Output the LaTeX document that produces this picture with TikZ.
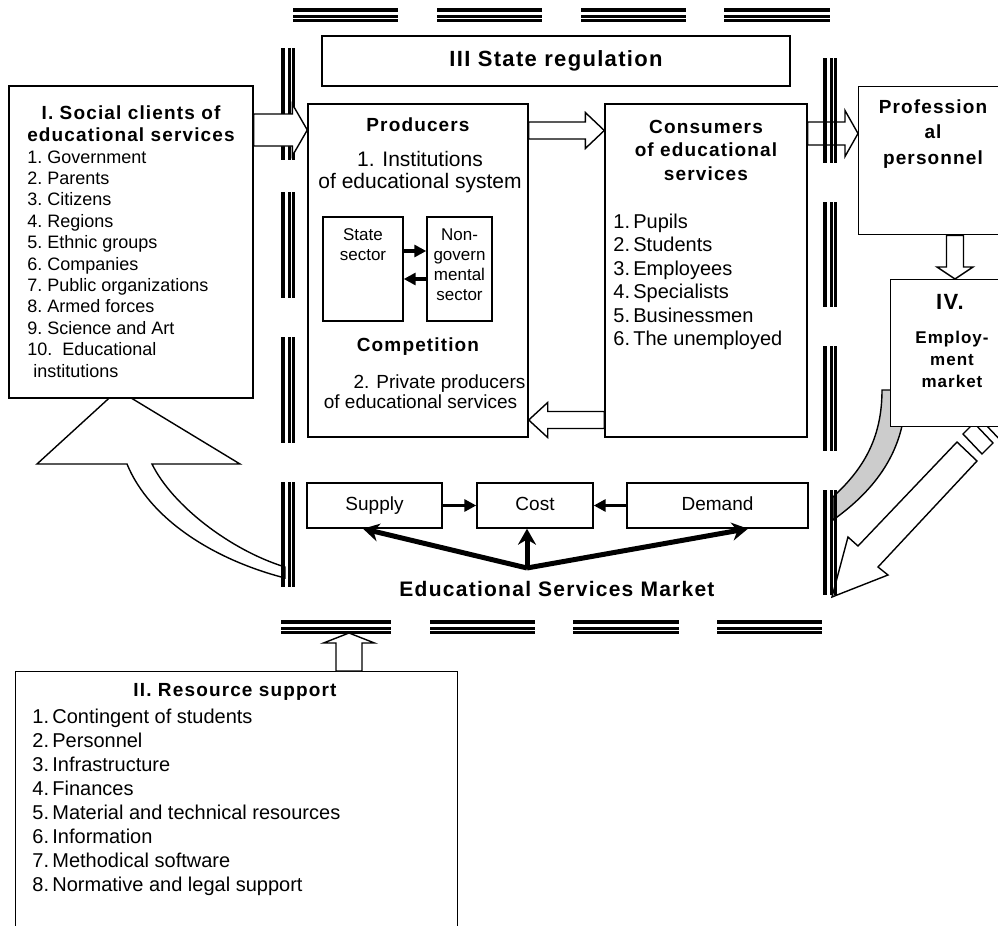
\documentclass[tikz,border=0pt]{standalone}
\usepackage{fontspec}
\setmainfont{Liberation Sans}
\newfontfamily\headfont[LetterSpace=6.0]{Liberation Sans}
\usetikzlibrary{arrows.meta,calc,backgrounds}

\newcommand{\vrail}[3]{%
  \draw[line width=2pt] (#1-5,#2) -- (#1-5,#3);
  \draw[line width=1.5pt] (#1+1,#2) -- (#1+1,#3);
  \draw[line width=1.25pt] (#1+5.5,#2) -- (#1+5.5,#3);}
\newcommand{\hrail}[3]{%
  \draw[line width=2pt] (#2,#1-5) -- (#3,#1-5);
  \draw[line width=1.5pt] (#2,#1+1) -- (#3,#1+1);
  \draw[line width=1.25pt] (#2,#1+5.5) -- (#3,#1+5.5);}

\begin{document}
\begin{tikzpicture}[x=0.5pt, y=-0.5pt,
  box/.style={draw, fill=white, line width=0.7pt, inner sep=0pt},
  market box/.style={box, minimum height=22.5pt, text height=7pt, text depth=2pt, font=\fontsize{9.5}{11}\selectfont},
  head/.style n args={2}{font=\headfont\bfseries\fontsize{#1}{#2}\selectfont, inner sep=0pt, align=center},
  txt/.style n args={2}{font=\fontsize{#1}{#2}\selectfont, inner sep=0pt, align=center},
  item/.style={font=\fontsize{#1}{12}\selectfont, inner sep=0pt, anchor=base west},
  blockarrow/.style={draw, fill=white, line width=0.7pt, line join=miter},
  thin arrow/.style={line width=1.8pt, -{Triangle[length=6pt,width=6pt]}},
  fat arrow/.style={line width=2.5pt, -{Stealth[length=8pt,width=9pt]}},
  fat/.style n args={3}{to path={
    ($(\tikztotarget)!#3!(\tikztostart)$) coordinate (fatH)
    ($(\tikztostart)!#1!90:(\tikztotarget)$) -- ($(fatH)!#1!90:(\tikztotarget)$)
    -- ($(fatH)!#2!90:(\tikztotarget)$) -- (\tikztotarget)
    -- ($(fatH)!#2!-90:(\tikztotarget)$) -- ($(fatH)!#1!-90:(\tikztotarget)$)
    -- ($(\tikztostart)!#1!-90:(\tikztotarget)$) -- cycle}}]
\useasboundingbox (0,0) rectangle (998,926);
\clip (0,0) rectangle (998,926);

\node[box, minimum width=234pt, minimum height=25pt, font=\headfont\bfseries\fontsize{11}{13}\selectfont] (regul) at (556,61) {III State regulation};
\node[box, minimum width=122pt, minimum height=156pt] (clients) at (131,242) {};
\node[box, minimum width=110pt, minimum height=166.5pt] (producers) at (418,270.5) {};
\node[box, minimum width=101pt, minimum height=166.5pt] (consumers) at (706,270.5) {};
\node[box, minimum width=71.5pt, minimum height=74pt, anchor=north west] (personnel) at (858,86) {};
\node[box, minimum width=55.5pt, minimum height=73.5pt, anchor=north west] (employ) at (890,279) {};
\node[box, minimum width=40pt, minimum height=52pt] (statesec) at (363,269) {};
\node[box, minimum width=32.5pt, minimum height=52pt] (nongov) at (459.5,269) {};
\node[market box, minimum width=67.5pt] (supply) at (374.5,505.5) {Supply};
\node[market box, minimum width=58pt] (cost) at (535,505.5) {Cost};
\node[market box, minimum width=90.5pt] (demand) at (717.5,505.5) {Demand};
\node[box, minimum width=221pt, minimum height=140pt, anchor=north west] (resource) at (15,671) {};

\node[head={9.5}{11}] (clientstitle) at (131,124) {I. Social clients of\\educational services};
\foreach \t [count=\i] in {Government,Parents,Citizens,Regions,Ethnic groups,Companies,Public organizations,Armed forces,Science and Art}
  \node[item=9] (client\i) at (27,{163+21.4*(\i-1)}) {\i.\ \t};
\node[item=9] (client10) at (27,355.6) {10.\ \ Educational};
\node[item=9] (client11) at (33,377) {institutions};

\node[head={9.5}{11}] (prodtitle) at (418,125) {Producers};
\node[txt={10.5}{11}] (inst) at (420,172) {1. Institutions\\of educational system};
\node[txt={8.5}{10}] (statetxt) at (363,245) {State\\sector};
\node[txt={8.5}{10}] (nongovtxt) at (459.5,265) {Non-\\govern\\mental\\sector};
\node[head={9.5}{11}] (competition) at (418,347) {Competition};
\node[txt={9.5}{10}] (private) at (420.5,392) {\hspace*{19pt}2. Private producers\\of educational services};

\node[head={9.5}{11.75}] (constitle) at (706,150) {Consumers\\of educational\\services};
\foreach \t [count=\i] in {Pupils,Students,Employees,Specialists,Businessmen,The unemployed}
  \node[item=10] (cons\i) at (613,{228+23.5*(\i-1)}) {\makebox[10pt][l]{\i.}\t};

\node[head={9.5}{12.75}] (perstitle) at (933,134) {Profession\\al\\personnel};
\node[head={11}{13}] (ivtitle) at (950,302) {IV.};
\node[head={8.5}{11}] (employtitle) at (952,359.5) {Employ-\\ment\\market};

\node[head={10.5}{12}] (market) at (557,589) {Educational Services Market};

\node[head={9.5}{11}] (restitle) at (235,692) {II. Resource support};
\foreach \t [count=\i] in {Contingent of students,Personnel,Infrastructure,Finances,Material and technical resources,Information,Methodical software,Normative and legal support}
  \node[item=10] (res\i) at (32,{723+24*(\i-1)}) {\makebox[10pt][l]{\i.}\t};

\begin{scope}[on background layer]
\draw[blockarrow] (127,464) -- (37,464) -- (118,390) -- (240,464) -- (152,464)
  .. controls (172,505) and (230,550) .. (285,567) -- (285,578)
  .. controls (215,560) and (150,520) .. (127,464) -- cycle;
\draw[fill=black!20, line width=0.7pt] (882,390) -- (895,390) -- (902,426)
  .. controls (893,465) and (868,495) .. (833,520) -- (833,497)
  .. controls (862,470) and (882,440) .. (882,390) -- cycle;
\draw[blockarrow] (957,442) -- (858,546) -- (848,537) -- (832,597) -- (888,575) -- (878,567) -- (977,461) -- cycle;
\draw[blockarrow] (963,434) -- (982,454) -- (993,443) -- (974,423) -- cycle;
\draw[blockarrow] (985,424) -- (1004,444) -- (1015,433) -- (996,413) -- cycle;
\coordinate (a3) at (consumers.east |- 0,133.5);
\coordinate (b3) at (personnel.west |- 0,133.5);
\draw[blockarrow] (a3) to[fat={5.75pt}{11.5pt}{6.5pt}] (b3);
\foreach \a/\b in {48/160,192/298,337/443,482/587} {\vrail{288}{\a}{\b}}
\foreach \a/\b in {58/163,202/307,346/451,490/595} {\vrail{830}{\a}{\b}}
\foreach \a/\b in {293/398,437/542,581/686,724/830} {\hrail{15}{\a}{\b}}
\foreach \a/\b in {281/391,430/535,573/679,717/822} {\hrail{627}{\a}{\b}}
\end{scope}

\coordinate (a1) at (clients.east |- 0,130);
\coordinate (b1) at (producers.west |- 0,130);
\draw[blockarrow] (a1) to[fat={8pt}{13pt}{7.5pt}] (b1);
\coordinate (a2) at (producers.east |- 0,130.5);
\coordinate (b2) at (consumers.west |- 0,130.5);
\draw[blockarrow] (a2) to[fat={4.25pt}{9pt}{9.5pt}] (b2);
\coordinate (a4) at (consumers.west |- 0,420);
\coordinate (b4) at (producers.east |- 0,420);
\draw[blockarrow] (a4) to[fat={4.25pt}{8.75pt}{9.5pt}] (b4);
\coordinate (a5) at (955,0 |- personnel.south);
\coordinate (b5) at (955,0 |- employ.north);
\draw[blockarrow] (a5) to[fat={4.25pt}{9pt}{6pt}] (b5);
\coordinate (a6) at (349,0 |- resource.north);
\coordinate (b6) at (349,633);
\draw[blockarrow] (a6) to[fat={6.5pt}{12.75pt}{5pt}] (b6);

\draw[thin arrow] (statesec.east |- 0,251) -- (nongov.west |- 0,251);
\draw[thin arrow] (nongov.west |- 0,279) -- (statesec.east |- 0,279);
\draw[thin arrow] (supply) -- (cost);
\draw[thin arrow] (demand) -- (cost);

\coordinate (hub) at (527,568);
\draw[fat arrow] (hub) -- (supply.south -| 363,0);
\draw[fat arrow] (hub) -- (cost.south -| hub);
\draw[fat arrow] (hub) -- (demand.south -| 748,0);
\end{tikzpicture}
\end{document}
